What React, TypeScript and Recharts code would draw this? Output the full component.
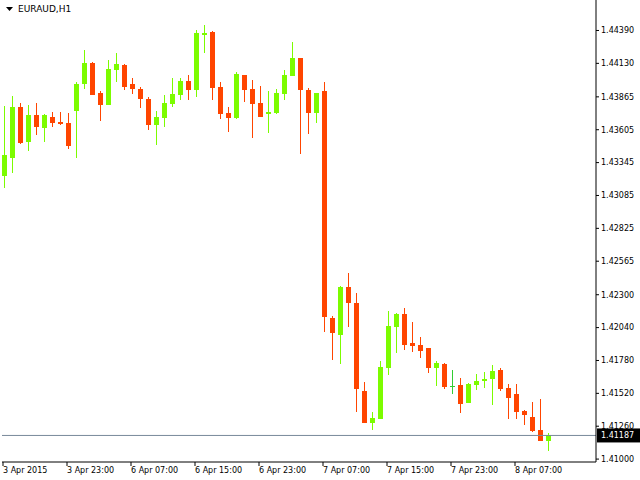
import { ComposedChart, Bar, XAxis, YAxis, ReferenceLine } from 'recharts';

// EURAUD H1, 3 Apr 2015 15:00 .. 8 Apr 2015
const opens = [
  1.43239, 1.43381, 1.43785, 1.43508, 1.43722, 1.43619, 1.43706, 1.43666, 1.43658, 1.43753,
  1.43967, 1.44133, 1.43896, 1.43801, 1.44078, 1.44117, 1.43967, 1.43927, 1.43848, 1.43643,
  1.43698, 1.43809, 1.43880, 1.43991, 1.43919, 1.44354, 1.44378, 1.43943, 1.43737, 1.43698,
  1.44038, 1.43927, 1.43816, 1.43729, 1.43737, 1.43888, 1.44030, 1.44172, 1.43919, 1.43737,
  1.43911, 1.42116, 1.41981, 1.42361, 1.42235, 1.41538, 1.41285, 1.41317, 1.41720, 1.42045,
  1.42148, 1.41918, 1.41902, 1.41879, 1.41720, 1.41752, 1.41578, 1.41586, 1.41444, 1.41586,
  1.41618, 1.41633, 1.41705, 1.41562, 1.41515, 1.41380, 1.41333, 1.41230, 1.41143,
];
const highs = [
  1.43793, 1.43872, 1.43817, 1.43801, 1.43817, 1.43730, 1.43745, 1.43745, 1.43737, 1.43983,
  1.44236, 1.44141, 1.43911, 1.44157, 1.44212, 1.44125, 1.44014, 1.43943, 1.43864, 1.43753,
  1.43880, 1.44014, 1.44014, 1.44038, 1.44394, 1.44434, 1.44386, 1.43983, 1.43785, 1.44061,
  1.44038, 1.43998, 1.43951, 1.43911, 1.43927, 1.44078, 1.44299, 1.44172, 1.43935, 1.43896,
  1.43983, 1.42132, 1.42369, 1.42472, 1.42314, 1.41610, 1.41372, 1.41776, 1.42171, 1.42155,
  1.42195, 1.42084, 1.41966, 1.41879, 1.41776, 1.41760, 1.41705, 1.41641, 1.41602, 1.41673,
  1.41689, 1.41744, 1.41720, 1.41594, 1.41594, 1.41388, 1.41451, 1.41475, 1.41206,
];
const lows = [
  1.43144, 1.43263, 1.43492, 1.43437, 1.43563, 1.43508, 1.43627, 1.43643, 1.43453, 1.43381,
  1.43927, 1.43880, 1.43674, 1.43801, 1.43983, 1.43919, 1.43888, 1.43777, 1.43603, 1.43484,
  1.43627, 1.43785, 1.43840, 1.43840, 1.43864, 1.44212, 1.43840, 1.43690, 1.43587, 1.43690,
  1.43824, 1.43540, 1.43706, 1.43579, 1.43729, 1.43840, 1.44030, 1.43413, 1.43571, 1.43658,
  1.42005, 1.41784, 1.41752, 1.42045, 1.41372, 1.41285, 1.41230, 1.41317, 1.41665, 1.41839,
  1.41863, 1.41847, 1.41799, 1.41681, 1.41578, 1.41554, 1.41515, 1.41364, 1.41444, 1.41546,
  1.41562, 1.41428, 1.41538, 1.41317, 1.41317, 1.41270, 1.41214, 1.41143, 1.41064,
];
const closes = [
  1.43405, 1.43785, 1.43500, 1.43722, 1.43627, 1.43722, 1.43658, 1.43650, 1.43476, 1.43967,
  1.44133, 1.43880, 1.43801, 1.44085, 1.44125, 1.43943, 1.43927, 1.43848, 1.43643, 1.43706,
  1.43817, 1.43888, 1.43991, 1.43919, 1.44370, 1.44370, 1.43935, 1.43730, 1.43698, 1.44046,
  1.43919, 1.43809, 1.43706, 1.43745, 1.43896, 1.44038, 1.44172, 1.43919, 1.43737, 1.43896,
  1.42124, 1.41997, 1.42361, 1.42235, 1.41554, 1.41285, 1.41325, 1.41728, 1.42053, 1.42148,
  1.41902, 1.41894, 1.41855, 1.41720, 1.41760, 1.41570, 1.41578, 1.41436, 1.41594, 1.41618,
  1.41633, 1.41697, 1.41554, 1.41483, 1.41372, 1.41349, 1.41222, 1.41143, 1.41187,
];

const xTickLabels = [
  '3 Apr 2015', '3 Apr 23:00', '6 Apr 07:00', '6 Apr 15:00', '6 Apr 23:00',
  '7 Apr 07:00', '7 Apr 15:00', '7 Apr 23:00', '8 Apr 07:00',
];
const yTicks = [
  1.41, 1.4126, 1.4152, 1.4178, 1.4204, 1.423, 1.42565,
  1.42825, 1.43085, 1.43345, 1.43605, 1.43865, 1.4413, 1.4439,
];
const lastPrice = 1.41187;
const symbol = 'EURAUD,H1';

const BULL = '#7CFC00';
const BEAR = '#FF4500';
const DOJI = '#32CD32';
const FONT = '"DejaVu Sans", Tahoma, sans-serif';

const data = opens.map((o, i) => ({
  i,
  open: o,
  high: highs[i],
  low: lows[i],
  close: closes[i],
}));

function Candle(props: any) {
  const { x, y, width, height, payload } = props;
  const { open, high, low, close } = payload;
  const top = Math.min(y, y + height);
  const bottom = Math.max(y, y + height);
  const pix = (v: number) => top + ((high - v) / (high - low)) * (bottom - top);
  const color = open === close ? DOJI : close > open ? BULL : BEAR;
  const cx = Math.round(x + width / 2);
  const wTop = Math.round(pix(high));
  const wBot = Math.round(pix(low));
  const bTop = Math.round(pix(Math.max(open, close)));
  const bBot = Math.round(pix(Math.min(open, close)));
  return (
    <g>
      <rect x={cx} y={wTop} width={1} height={Math.max(1, wBot - wTop)} fill={color} />
      {open === close ? (
        <rect x={cx - 2} y={bTop} width={5} height={1} fill={color} />
      ) : (
        <rect x={cx - 2} y={bTop} width={5} height={Math.max(1, bBot - bTop)} fill={color} />
      )}
    </g>
  );
}

function TimeTick(props: any) {
  const { x, y, payload } = props;
  const label = xTickLabels[payload.value / 8];
  if (!label) return null;
  return (
    <text x={x} y={y} dy="0.71em" textAnchor="start" fontSize={8} fontFamily={FONT} fill="#000">
      {label}
    </text>
  );
}

function PriceLabel(props: any) {
  const { viewBox } = props;
  const right = viewBox.x + viewBox.width;
  return (
    <g>
      <rect x={right + 1} y={viewBox.y - 7} width={43} height={14} fill="#000" />
      <text x={right + 5} y={viewBox.y} dy="0.355em" fontSize={8} fontFamily={FONT} fill="#fff">
        {lastPrice.toFixed(5)}
      </text>
    </g>
  );
}

export default function App() {
  return (
    <div style={{ position: 'fixed', left: 0, top: 0, width: 640, height: 480, background: '#fff' }}>
      <ComposedChart
        width={640}
        height={480}
        data={data}
        margin={{ top: 0, right: 0, bottom: 0, left: 2 }}
      >
        <XAxis
          dataKey="i"
          type="category"
          interval={7}
          padding={{ left: -3, right: 45 }}
          height={18}
          axisLine={{ stroke: '#000' }}
          tickLine={{ stroke: '#000' }}
          tickSize={4}
          tickMargin={1}
          tick={<TimeTick />}
        />
        <YAxis
          yAxisId="left"
          orientation="left"
          width={0}
          domain={[1.40977, 1.44631]}
          tick={false}
          tickLine={false}
          axisLine={{ stroke: '#000' }}
        />
        <YAxis
          yAxisId="price"
          orientation="right"
          width={44}
          type="number"
          domain={[1.40977, 1.44631]}
          ticks={yTicks}
          interval={0}
          tickFormatter={(v: number) => v.toFixed(5)}
          axisLine={{ stroke: '#000' }}
          tickLine={{ stroke: '#000' }}
          tickSize={3}
          tickMargin={2}
          tick={{ fontSize: 8, fontFamily: FONT, fill: '#000' }}
        />
        <ReferenceLine
          yAxisId="price"
          y={lastPrice}
          stroke="#778899"
          strokeWidth={1}
          label={<PriceLabel />}
        />
        <Bar
          yAxisId="price"
          dataKey={(d: any) => [d.low, d.high]}
          barSize={5}
          shape={<Candle />}
          isAnimationActive={false}
        />
      </ComposedChart>
      <div
        style={{
          position: 'absolute',
          left: 6,
          top: 4,
          fontFamily: FONT,
          fontSize: 9,
          color: '#000',
          display: 'flex',
          alignItems: 'center',
          gap: 5,
        }}
      >
        <svg width={7} height={4}>
          <polygon points="0,0 7,0 3.5,4" fill="#000" />
        </svg>
        <span>{symbol}</span>
      </div>
    </div>
  );
}
